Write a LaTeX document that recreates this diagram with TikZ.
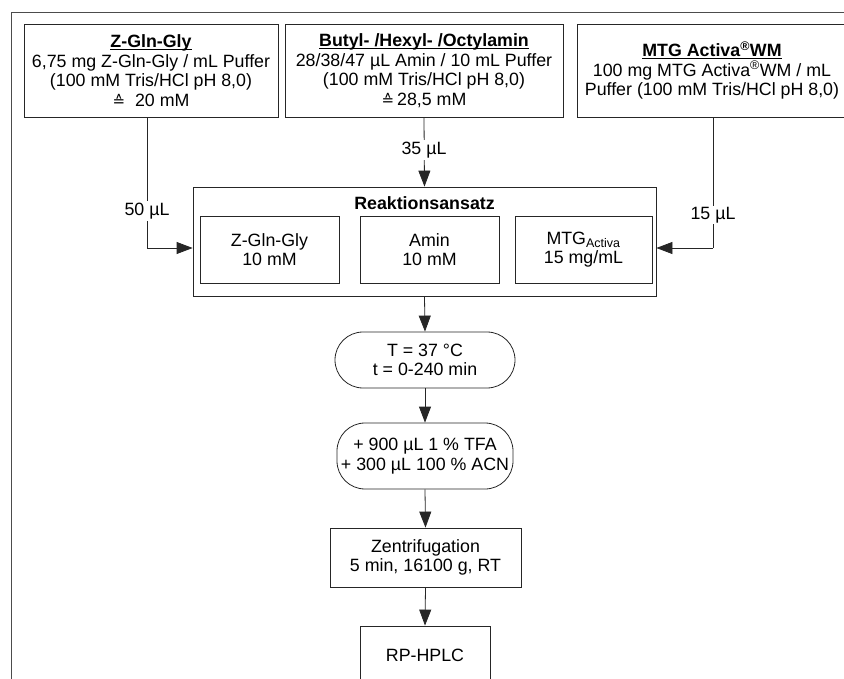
\documentclass[tikz,border=0pt]{standalone}
\usepackage{fontspec}
\setmainfont{Liberation Sans}
\newfontfamily\dejavu{DejaVu Sans}
\usetikzlibrary{arrows.meta}
\newcommand{\corr}{{\dejavu\fontsize{15}{15}\selectfont ≙}}
\newsavebox{\ttlbox}
\newcommand{\ttl}[1]{\sbox{\ttlbox}{\textbf{#1}}\leavevmode\rlap{\rule[-2pt]{\wd\ttlbox}{0.9pt}}\usebox{\ttlbox}}
\begin{document}
\begin{tikzpicture}[x=1pt,y=-1pt,
  every node/.style={font=\fontsize{17.8}{19.5}\selectfont, inner sep=0pt, align=center},
  box/.style={draw=black!85, line width=0.8pt},
  pill/.style={draw=black!85, line width=0.8pt, rounded corners=28pt},
  conn/.style={draw=black!85, line width=0.8pt},
  arr/.style={conn, -{Triangle[length=16pt,width=12pt]}},
  lab/.style={fill=white, inner sep=1.5pt},
  frame/.style={draw=black!70, line width=1.3pt}]
\useasboundingbox (0,0) rectangle (844,679);
% outer frame (cropped)
\coordinate (fbl) at (11.5,690);
\coordinate (ftr) at (860,12.5);
\draw[frame] (fbl) |- (ftr);
% source boxes
\node[box, minimum width=254pt, minimum height=93pt] (b1) at (151,70.5)
  {\ttl{Z-Gln-Gly}\\6,75 mg Z-Gln-Gly / mL Puffer\\(100 mM Tris/HCl pH 8,0)\\\corr\ \ 20 mM};
\node[box, minimum width=278pt, minimum height=93pt] (b2) at (424,70.5)
  {\ttl{Butyl- /Hexyl- /Octylamin}\\28/38/47 µL Amin / 10 mL Puffer\\(100 mM Tris/HCl pH 8,0)\\\corr\,28,5 mM};
\node[box, minimum width=270pt, minimum height=93pt] (b3) at (712,70.5)
  {\ttl{MTG Activa\textsuperscript{®}WM}\\100 mg MTG Activa\textsuperscript{®}WM / mL\\Puffer (100 mM Tris/HCl pH 8,0)};
% reaction box
\node[box, minimum width=463pt, minimum height=109pt] (reak) at (424.5,241.5) {};
\node (rtitle) at (424.5,203) {\textbf{Reaktionsansatz}};
\node[box, minimum width=139pt, minimum height=67pt] (ra) at (269.5,249.5) {Z-Gln-Gly\\10 mM};
\node[box, minimum width=139pt, minimum height=67pt] (rb) at (429.5,249.5) {Amin\\10 mM};
\node[box, minimum width=137pt, minimum height=67pt] (rc) at (583.5,249.5) {MTG\textsubscript{Activa}\\15 mg/mL};
% process steps
\node[pill, minimum width=180pt, minimum height=56pt] (temp) at (425,360) {T = 37 °C\\t = 0-240 min};
\node[pill, minimum width=176pt, minimum height=66pt] (tfa) at (425,456) {+ 900 µL 1 \% TFA\\+ 300 µL 100 \% ACN};
\node[box, minimum width=191pt, minimum height=59pt] (zen) at (425.5,557.5) {Zentrifugation\\5 min, 16100 g, RT};
\node[box, minimum width=130pt, minimum height=58pt] (hplc) at (425,655) {RP-HPLC};
% connectors
\coordinate (k1) at (147,248);
\coordinate (k3) at (713,248);
\draw[conn] (b1.south -| k1) -- (k1);
\draw[arr] (k1) -- (reak.west |- k1);
\draw[conn] (b3.south -| k3) -- (k3);
\draw[arr] (k3) -- (reak.east |- k3);
\draw[arr] (b2.south) -- (reak.north);
\draw[arr] (reak.south) -- (temp.north);
\draw[arr] (temp.south) -- (tfa.north);
\draw[arr] (tfa.south) -- (zen.north);
\draw[arr] (zen.south) -- (hplc.north);
% volume labels
\node[lab] (l1) at (147,211) {50 µL};
\node[lab] (l2) at (424,150) {35 µL};
\node[lab] (l3) at (713,215) {15 µL};
\end{tikzpicture}
\end{document}
